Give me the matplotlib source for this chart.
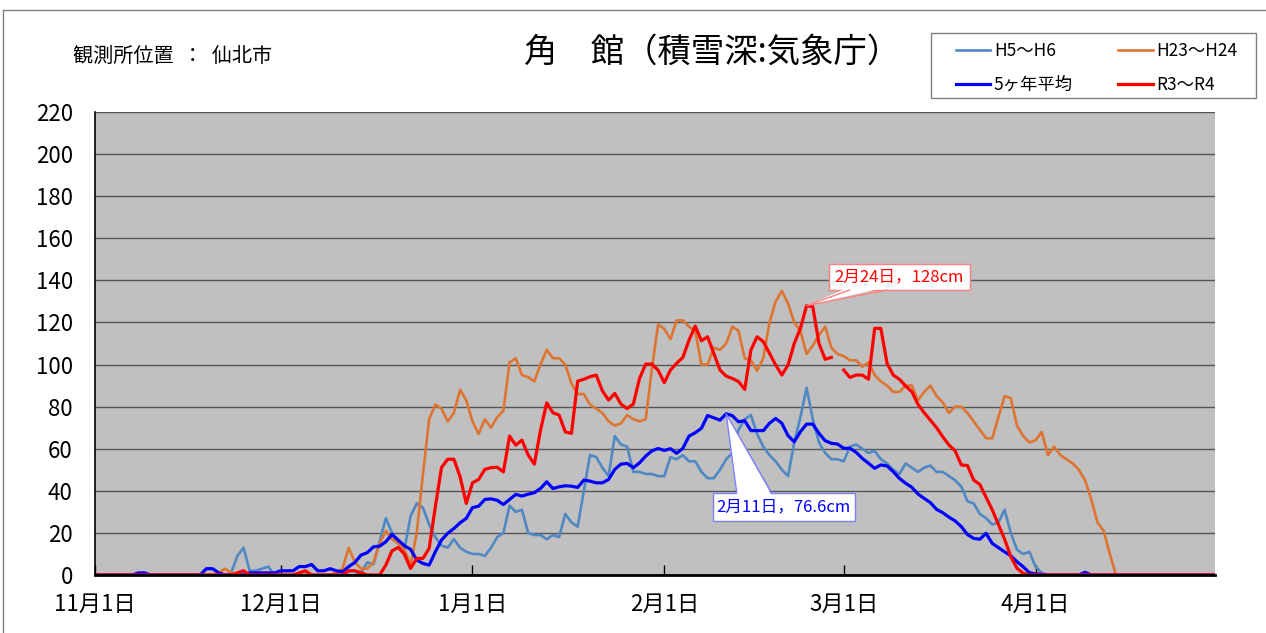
import numpy as np
import matplotlib.pyplot as plt
from matplotlib.lines import Line2D
from matplotlib.patches import Polygon, Rectangle
from matplotlib.transforms import Affine2D

plt.rcParams['font.family'] = ['Noto Sans CJK JP', 'DejaVu Sans']

# 積雪深 (cm), 11/1 ~ 4/30 の日別値 (R4 はうるう年 -> 2/29 あり)
h5_nov = [0, 0, 0, 0, 0, 0, 0, 0, 0, 0, 0, 0, 0, 0, 0, 0, 0, 0, 0, 0, 0, 0, 1, 9, 13, 2, 2, 3, 4, 0]
h5_dec = [0, 0, 0, 0, 0, 0, 0, 0, 0, 0, 0, 0, 0, 1, 6, 5, 16, 27, 20, 15, 12, 28, 34, 32, 24, 18, 14, 13, 17, 13, 11]
h5_jan = [10, 10, 9, 13, 18, 20, 33, 30, 31, 20, 19, 19, 17, 19, 18, 29, 25, 23, 40, 57, 56, 51, 47, 66, 62, 61, 49, 49, 48, 48, 47]
h5_feb = [47, 56, 55, 57, 54, 54, 49, 46, 46, 50, 55, 58, 69, 74, 76, 67, 61, 57, 54, 50, 47, 63, 75, 89, 74, 63, 58, 55, 55]
h5_mar = [54, 61, 62, 60, 58, 59, 55, 53, 50, 48, 53, 51, 49, 51, 52, 49, 49, 47, 45, 42, 35, 34, 29, 27, 24, 25, 31, 20, 12, 10, 11]
h5_apr = [4, 1, 0, 0, 0, 0, 0, 0, 0, 0, 0, 0, 0, 0, 0, 0, 0, 0, 0, 0, 0, 0, 0, 0, 0, 0, 0, 0, 0, 0]

h23_nov = [0, 0, 0, 0, 0, 0, 0, 0, 0, 0, 0, 0, 0, 0, 0, 0, 0, 0, 0, 0, 1, 3, 1, 0, 0, 0, 0, 0, 0, 0]
h23_dec = [0, 0, 0, 0, 0, 0, 0, 0, 0, 1, 3, 13, 6, 3, 3, 6, 15, 21, 17, 15, 12, 5, 20, 48, 74, 81, 79, 73, 77, 88, 83]
h23_jan = [73, 67, 74, 70, 75, 78, 101, 103, 95, 94, 92, 100, 107, 103, 103, 100, 91, 86, 86, 81, 79, 77, 73, 71, 72, 76, 74, 73, 74, 98, 119]
h23_feb = [117, 112, 121, 121, 118, 116, 100, 100, 108, 107, 110, 118, 116, 103, 102, 97, 103, 120, 130, 135, 129, 120, 116, 105, 109, 114, 118, 108, 105]
h23_mar = [104, 102, 102, 99, 101, 95, 92, 90, 87, 87, 90, 90, 83, 87, 90, 85, 82, 77, 80, 80, 77, 73, 69, 65, 65, 75, 85, 84, 71, 66, 63]
h23_apr = [64, 68, 57, 61, 57, 55, 53, 50, 45, 36, 25, 21, 10, 0, 0, 0, 0, 0, 0, 0, 0, 0, 0, 0, 0, 0, 0, 0, 0, 0]

avg_nov = [0, 0, 0, 0, 0, 0, 0, 1, 1, 0, 0, 0, 0, 0, 0, 0, 0, 0, 3, 3, 1, 0, 0, 0, 0, 1, 1, 1, 1, 1]
avg_dec = [2, 2, 2, 4, 4, 5, 2, 2, 3, 2, 1.5, 4, 6, 9.5, 10.6, 13.4, 13.7, 15.8, 19.3, 16.6, 13.9, 12.2, 7.1, 5.5, 4.7, 11, 16.6, 19.8, 22.1, 24.8, 26.9]
avg_jan = [32, 32.7, 35.9, 36.2, 35.5, 33.5, 35.9, 38.3, 37.5, 38.4, 39.1, 41.1, 44.3, 41.1, 41.9, 42.4, 42.2, 41.6, 45.1, 44.6, 43.8, 43.8, 45.4, 50.2, 52.7, 53, 51, 53.3, 56.5, 59, 60.1]
avg_feb = [59.2, 60, 57.8, 60.2, 66, 67.6, 69.7, 75.8, 74.7, 73.6, 76.6, 75.7, 72.8, 73.3, 68.6, 68.6, 68.6, 72.1, 74.4, 72.1, 66.2, 63.3, 68.1, 71.7, 71.7, 67.3, 63.8, 62.6, 62.2]
avg_mar = [60.2, 60.2, 58.3, 55.4, 53.1, 50.7, 52.3, 51.8, 49.1, 45.9, 43.6, 41.7, 38.5, 36.4, 34.4, 31.2, 29.6, 27.5, 25.7, 23, 19.2, 17.4, 17, 19.8, 15, 13, 11, 9.1, 6.3, 3.9, 1.1]
avg_apr = [0.5, 0.3, 0, 0, 0, 0, 0, 0, 1.3, 0, 0, 0, 0, 0, 0, 0, 0, 0, 0, 0, 0, 0, 0, 0, 0, 0, 0, 0, 0, 0]

r3_nov = [0, 0, 0, 0, 0, 0, 0, 0, 0, 0, 0, 0, 0, 0, 0, 0, 0, 0, 0, 0, 0, 0, 0, 1, 2, 0, 0, 0, 0, 0]
r3_dec = [0, 0, 0, 1, 2, 0, 0, 0, 0, 0, 0, 2, 2, 1, 0, 0, 0, 4.7, 11.5, 13.1, 9.9, 3.1, 7.9, 7.9, 12.6, 32.4, 51.1, 55, 55, 46.7, 34]
r3_jan = [43.8, 45.4, 50.2, 51, 51.2, 49, 66, 61.7, 64.1, 57, 52.7, 68.8, 81.8, 77.1, 76, 68, 67.3, 92.1, 93, 94.2, 95, 87.5, 83.1, 86.3, 81.2, 79.1, 81.2, 93.4, 100.2, 100.2, 97.3]
r3_feb = [91.4, 97.4, 100.6, 103.4, 111.6, 118.3, 111.3, 113.2, 105.3, 97.4, 94.5, 93.4, 91.9, 88.2, 106.9, 113.2, 110.9, 105.3, 99.8, 95, 99.8, 110, 117.2, 128, 127.5, 110, 102.5, 103.4, np.nan]
r3_mar = [97.4, 93.9, 95, 95, 93, 117.2, 117.2, 100.6, 95, 93, 89.8, 87.1, 81.1, 77.1, 73.6, 70, 65.7, 61.8, 59, 52.3, 52, 45.1, 43, 37, 31, 24, 17, 8.7, 3.2, 0.8, 0]
r3_apr = [0, 0, 0, 0, 0, 0, 0, 0, 0, 0, 0, 0, 0, 0, 0, 0, 0, 0, 0, 0, 0, 0, 0, 0, 0, 0, 0, 0, 0, 0]

month_names = [11, 12, 1, 2, 3, 4]

h5 = np.array(h5_nov + h5_dec + h5_jan + h5_feb + h5_mar + h5_apr, dtype=float)
h23 = np.array(h23_nov + h23_dec + h23_jan + h23_feb + h23_mar + h23_apr, dtype=float)
avg5 = np.array(avg_nov + avg_dec + avg_jan + avg_feb + avg_mar + avg_apr, dtype=float)
r3 = np.array(r3_nov + r3_dec + r3_jan + r3_feb + r3_mar + r3_apr, dtype=float)

month_len = [len(m) for m in [r3_nov, r3_dec, r3_jan, r3_feb, r3_mar, r3_apr]]
month_start = np.concatenate([[0], np.cumsum(month_len)[:-1]])

W, H = 1266, 633
fig = plt.figure(figsize=(W / 100, H / 100), dpi=100)
ax = fig.add_axes([95 / W, 1 - 575 / H, 1120 / W, 463 / H])
ax.set_facecolor('#C0C0C0')

x = np.arange(len(r3))
l1, = ax.plot(x, h5, color='#4F88C3', lw=1.9, label='H5～H6')
l2, = ax.plot(x, h23, color='#DE7431', lw=1.9, label='H23～H24')
l3, = ax.plot(x, avg5, color='#0000FF', lw=2.3, label='5ヶ年平均')
l4, = ax.plot(x, r3, color='#FF0000', lw=2.3, label='R3～R4')

ax.set_xlim(0, len(x) - 1)
ax.set_ylim(0, 220)
ax.set_yticks(range(0, 221, 20))
ax.yaxis.grid(True, color='#555555', lw=1)
ax.set_axisbelow(True)

ax.set_xticks(month_start, [f'{m}月1日' for m in month_names])
ax.tick_params(axis='x', direction='in', length=7, width=1, pad=13, labelsize=16)
ax.tick_params(axis='y', length=0, pad=16, labelsize=16)

ax.spines['top'].set_visible(False)
ax.spines['right'].set_visible(False)
ax.spines['left'].set_color('black')
ax.spines['left'].set_linewidth(1.2)
ax.spines['bottom'].set_color('black')
ax.spines['bottom'].set_linewidth(2)


def callout(i, v, text, color, ec, box, base):
    # 吹き出し: box / base はデータ点からの offset (pixel)
    px, py = ax.transData.transform((i, v))
    tr = Affine2D().translate(px, py)
    x0, x1, y0, y1 = box
    bx0, bx1, by = base
    inner = by + (3 if by > 0 else -3)
    fig.add_artist(Rectangle((x0, y0), x1 - x0, y1 - y0, transform=tr,
                             fc='white', ec=ec, lw=1, zorder=5))
    fig.add_artist(Polygon([(0, 0), (bx0, inner), (bx1, inner)], closed=True,
                           transform=tr, fc='white', ec='none', zorder=6))
    fig.add_artist(Line2D([bx0, 0, bx1], [by, 0, by], transform=tr,
                          color=ec, lw=1, zorder=7))
    fig.text((x0 + x1) / 2, (y0 + y1) / 2, text, transform=tr, ha='center', va='center',
             fontsize=12, color=color, zorder=8)


i_r = int(np.nanargmax(r3))
callout(i_r, r3[i_r], '2月24日，128cm', '#FF0000', '#FF8080',
        (22, 163, 15.6, 41.6), (43, 80, 15.6))
i_a = int(np.nanargmax(avg5))
callout(i_a, avg5[i_a], '2月11日，76.6cm', '#0000FF', '#7F7FFF',
        (-13.4, 128.6, -107.2, -79.2), (10.6, 45.6, -79.2))

fig.text(712 / W, 1 - 52 / H, '角　館（積雪深:気象庁）', ha='center', va='center', fontsize=24)
fig.text(73 / W, 1 - 56 / H, '観測所位置  ：  仙北市', ha='left', va='center', fontsize=14.5)

leg = fig.legend([l1, l3, l2, l4], [l.get_label() for l in [l1, l3, l2, l4]],
                 loc='upper left', bbox_to_anchor=(947 / W, 1 - 33 / H), ncol=2,
                 fontsize=12.5, frameon=False,
                 handlelength=2.0, handletextpad=0.2, columnspacing=2.6,
                 labelspacing=0.95, borderpad=0.5, borderaxespad=0)
fig.add_artist(Rectangle((931 / W, 1 - 98 / H), 325 / W, 65 / H, transform=fig.transFigure,
                         fc='white', ec='#808080', lw=1, zorder=0))

# 枠線
fig.add_artist(Line2D([3 / W, 1], [1 - 9.5 / H, 1 - 9.5 / H], transform=fig.transFigure, color='#808080', lw=1))
fig.add_artist(Line2D([3 / W, 3 / W], [0, 1 - 9.5 / H], transform=fig.transFigure, color='#808080', lw=1))

fig.savefig('out.png', dpi=100)
